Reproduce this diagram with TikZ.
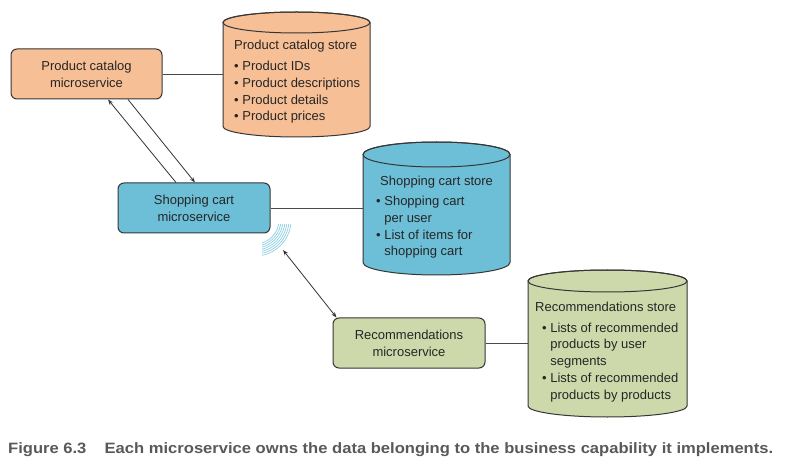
\documentclass[tikz,border=0pt]{standalone}
\usepackage{fontspec}
\usepackage{graphicx}
\setmainfont{Liberation Sans}
\usetikzlibrary{arrows.meta}

\definecolor{catfill}{HTML}{F7BF95}
\definecolor{cartfill}{HTML}{6CBFD7}
\definecolor{recfill}{HTML}{CDD9AB}
\definecolor{wavecol}{HTML}{8ED0E6}
\definecolor{edgecol}{HTML}{363636}
\definecolor{capgray}{HTML}{58595B}

\tikzset{
  service/.style={draw=edgecol, line width=1pt, rounded corners=6pt,
    minimum width=151pt, minimum height=50pt, align=center,
    font=\fontsize{13}{17}\selectfont, text=black!85},
  storetext/.style={anchor=base west, inner sep=0pt, align=left,
    font=\fontsize{13}{16.7}\selectfont, text=black!85},
  link/.style={draw=edgecol!90, line width=0.8pt},
  call/.style={draw=black!80, line width=0.8pt},
  tip/.tip={Stealth[length=5.5pt,width=4pt]},
}

% cylinder: centre x, half width, top y, bottom y, y radius, fill
\newcommand\storecyl[6]{%
  \filldraw[fill=#6, draw=edgecol, line width=1pt]
    (#1-#2,#3) -- (#1-#2,#4) arc[start angle=180, end angle=0, x radius=#2, y radius=#5]
    -- (#1+#2,#3) arc[start angle=0, end angle=-180, x radius=#2, y radius=#5] -- cycle;
  \draw[draw=edgecol, line width=1pt] (#1,#3) ellipse[x radius=#2, y radius=#5];
}

\begin{document}
\begin{tikzpicture}[x=1pt, y=-1pt]
\useasboundingbox[fill=white] (0,0) rectangle (785,465);

% stores
\storecyl{296.5}{73.5}{22.5}{126.5}{10.5}{catfill}
\storecyl{436.5}{73.5}{154.5}{262.5}{12.5}{cartfill}
\storecyl{607.5}{79.5}{281}{406}{11}{recfill}

\coordinate (pcdb) at (223,74);
\coordinate (scdb) at (363,208);
\coordinate (recdb) at (528,343);

% text baseline is the last line
\node[storetext] (pcstore) at (234,121) {Product catalog store\\[4.3pt]
  \textbullet\ Product IDs\\
  \textbullet\ Product descriptions\\
  \textbullet\ Product details\\
  \textbullet\ Product prices};
\node[storetext] (scstore) at (380,256) {Shopping cart store\\[3.6pt]
  \hspace*{-4pt}\textbullet\ Shopping cart\\
  \hspace*{-4pt}\phantom{\textbullet\ }per user\\
  \hspace*{-4pt}\textbullet\ List of items for\\
  \hspace*{-4pt}\phantom{\textbullet\ }shopping cart};
\node[storetext] (recstore) at (535,399) {Recommendations store\\[4.3pt]
  \hspace*{7pt}\textbullet\ Lists of recommended\\
  \hspace*{7pt}\phantom{\textbullet\ }products by user\\
  \hspace*{7pt}\phantom{\textbullet\ }segments\\
  \hspace*{7pt}\textbullet\ Lists of recommended\\
  \hspace*{7pt}\phantom{\textbullet\ }products by products};

% wireless waves below the shopping cart box
\begin{scope}
  \clip (262,225) rectangle (300,262);
  \foreach \r in {24,26,...,36}
    \draw[wavecol, line width=0.7pt] (255,220) ++(0:\r) arc[start angle=0, end angle=90, radius=\r];
\end{scope}

% microservices
\node[service, fill=catfill] (pcms) at (86.5,74) {Product catalog\\microservice};
\node[service, fill=cartfill, minimum width=152pt] (scms) at (194,208) {Shopping cart\\microservice};
\node[service, fill=recfill, minimum width=152pt] (recms) at (409,343) {Recommendations\\microservice};

\coordinate (wifi) at (283,250);

\draw[link] (pcms.east) -- (pcdb);
\draw[link] (scms.east) -- (scdb);
\draw[link] (recms.east) -- (recdb);

\draw[call, -tip] ([xshift=-18pt]scms.north) -- ([xshift=21.5pt]pcms.south);
\draw[call, -tip] ([xshift=41.5pt]pcms.south) -- ([xshift=1pt]scms.north);
\draw[call, tip-tip] (wifi) -- ([xshift=4pt]recms.north west);

\node[anchor=base west, inner sep=0pt, text=capgray, font=\bfseries\fontsize{15}{18}\selectfont] (caption) at (8,453)
  {\resizebox{765pt}{\height}{Figure 6.3\hspace{1.1em}Each microservice owns the data belonging to the business capability it implements.}};
\end{tikzpicture}
\end{document}
